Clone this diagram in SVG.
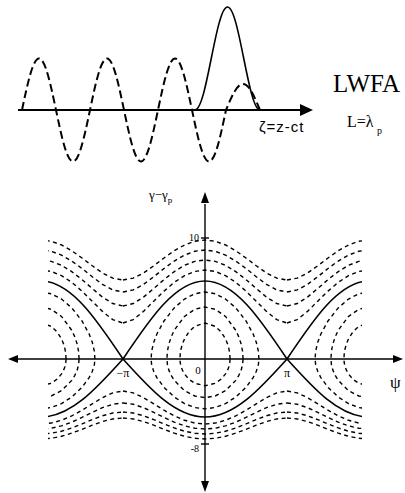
<svg xmlns="http://www.w3.org/2000/svg" xmlns:xlink="http://www.w3.org/1999/xlink" width="405" height="493" viewBox="0 0 405 493">
<style>
.ax{stroke:#000;stroke-width:1.4;fill:none}
.ah{fill:#000;stroke:none}
.sol{stroke:#000;stroke-width:1.6;fill:none}
.dsh{stroke:#000;stroke-width:1.4;fill:none;stroke-dasharray:4 3.5}
.tdsh{stroke:#000;stroke-width:2;fill:none;stroke-dasharray:8 4}
.serif{font-family:"Liberation Serif","DejaVu Serif",serif;fill:#000}
.sans{font-family:"Liberation Sans","DejaVu Sans",sans-serif;fill:#000}
</style>
<defs>
<clipPath id="plotclip"><rect x="-157" y="-170" width="314" height="280"/></clipPath>
<g id="cell">
<path class="sol" d="M-82,0 C-55.26,-39.96 -29.68,-78 0,-78 C29.68,-78 55.26,-39.96 82,0"/>
<path class="sol" d="M-82,0 C-55.26,29.71 -29.68,58 0,58 C29.68,58 55.26,29.71 82,0"/>
<polyline class="dsh" points="-82,-79 -71.75,-80.88 -61.5,-86.03 -51.25,-93.2 -41,-101 -30.75,-108.24 -20.5,-114.02 -10.25,-117.73 0,-119 10.25,-117.73 20.5,-114.02 30.75,-108.24 41,-101 51.25,-93.2 61.5,-86.03 71.75,-80.88 82,-79"/>
<polyline class="dsh" points="-82,-67 -71.75,-69.07 -61.5,-74.64 -51.25,-82.28 -41,-90.47 -30.75,-97.98 -20.5,-103.92 -10.25,-107.7 0,-109 10.25,-107.7 20.5,-103.92 30.75,-97.98 41,-90.47 51.25,-82.28 61.5,-74.64 71.75,-69.07 82,-67"/>
<polyline class="dsh" points="-82,-53 -71.75,-55.45 -61.5,-61.91 -51.25,-70.48 -41,-79.4 -30.75,-87.42 -20.5,-93.69 -10.25,-97.65 0,-99 10.25,-97.65 20.5,-93.69 30.75,-87.42 41,-79.4 51.25,-70.48 61.5,-61.91 71.75,-55.45 82,-53"/>
<polyline class="dsh" points="-82,-36 -71.75,-39.35 -61.5,-47.6 -51.25,-57.8 -41,-67.89 -30.75,-76.66 -20.5,-83.37 -10.25,-87.57 0,-89 10.25,-87.57 20.5,-83.37 30.75,-76.66 41,-67.89 51.25,-57.8 61.5,-47.6 71.75,-39.35 82,-36"/>
<polyline class="dsh" points="-82,32 -71.75,33.85 -61.5,38.64 -51.25,44.86 -41,51.23 -30.75,56.89 -20.5,61.29 -10.25,64.06 0,65 10.25,64.06 20.5,61.29 30.75,56.89 41,51.23 51.25,44.86 61.5,38.64 71.75,33.85 82,32"/>
<polyline class="dsh" points="-82,44 -71.75,45.26 -61.5,48.68 -51.25,53.39 -41,58.46 -30.75,63.13 -20.5,66.83 -10.25,69.19 0,70 10.25,69.19 20.5,66.83 30.75,63.13 41,58.46 51.25,53.39 61.5,48.68 71.75,45.26 82,44"/>
<polyline class="dsh" points="-82,53 -71.75,54 -61.5,56.76 -51.25,60.65 -41,64.94 -30.75,68.96 -20.5,72.2 -10.25,74.28 0,75 10.25,74.28 20.5,72.2 30.75,68.96 41,64.94 51.25,60.65 61.5,56.76 71.75,54 82,53"/>
<polyline class="dsh" points="-82,59 -71.75,59.93 -61.5,62.52 -51.25,66.2 -41,70.29 -30.75,74.16 -20.5,77.28 -10.25,79.3 0,80 10.25,79.3 20.5,77.28 30.75,74.16 41,70.29 51.25,66.2 61.5,62.52 71.75,59.93 82,59"/>
<polygon class="dsh" points="53.94,0 53.32,-8 51.25,-16.82 48.14,-25 41,-38.04 30.75,-51.1 20.5,-59.98 10.25,-65.25 0,-67 -10.25,-65.25 -20.5,-59.98 -30.75,-51.1 -41,-38.04 -48.14,-25 -51.25,-16.82 -53.32,-8 -53.94,0 -53.32,5.95 -51.25,12.51 -48.14,18.59 -41,28.29 -30.75,38 -20.5,44.6 -10.25,48.52 0,49.82 10.25,48.52 20.5,44.6 30.75,38 41,28.29 48.14,18.59 51.25,12.51 53.32,5.95"/>
<polygon class="dsh" points="38.09,0 37.53,-8 36.14,-15 33.85,-22 30.75,-28.74 20.5,-42.58 10.25,-49.72 0,-52 -10.25,-49.72 -20.5,-42.58 -30.75,-28.74 -33.85,-22 -36.14,-15 -37.53,-8 -38.09,0 -37.53,5.95 -36.14,11.15 -33.85,16.36 -30.75,21.37 -20.5,31.66 -10.25,36.97 0,38.67 10.25,36.97 20.5,31.66 30.75,21.37 33.85,16.36 36.14,11.15 37.53,5.95"/>
<polygon class="dsh" points="25.06,0 24.79,-5 23.98,-10 22.6,-15 20.5,-20.12 16.21,-27 10.25,-32.63 0,-36 -10.25,-32.63 -16.21,-27 -20.5,-20.12 -22.6,-15 -23.98,-10 -24.79,-5 -25.06,0 -24.79,3.72 -23.98,7.44 -22.6,11.15 -20.5,14.96 -16.21,20.08 -10.25,24.26 0,26.77 10.25,24.26 16.21,20.08 20.5,14.96 22.6,11.15 23.98,7.44 24.79,3.72"/>
</g>
</defs>

<g id="wave-panel">
<line class="ax" style="stroke-width:2" x1="18" y1="110" x2="301" y2="110"/>
<polygon class="ah" points="300,104 313,110 300,116"/>
<path class="tdsh" d="M22,110 C27.54,83.62 32.85,58.5 39,58.5 C45.15,58.5 50.46,83.62 56,110 C61.54,136.38 66.85,161.5 73,161.5 C79.15,161.5 84.46,136.38 90,110 C95.54,83.62 100.85,58.5 107,58.5 C113.15,58.5 118.46,83.62 124,110 C129.54,136.38 134.85,161.5 141,161.5 C147.15,161.5 152.46,136.38 158,110 C163.54,83.62 168.85,58.5 175,58.5 C181.15,58.5 186.46,83.62 192,110 C197.54,136.38 202.85,161.5 209,161.5 C215.15,161.5 220.46,136.38 226,110 C231.54,96.68 236.85,84 243,84 C249.15,84 254.46,96.68 260,110"/>
<path class="sol" d="M195,110 C200.88,110 205.95,84.88 211.25,58.5 C216.55,32.12 221.62,7 227.5,7 C233.38,7 238.45,32.12 243.75,58.5 C249.05,84.88 254.12,110 260,110"/>
<text class="sans" x="259" y="132" font-size="15" letter-spacing="1">ζ=z-ct</text>
<text class="serif" x="333" y="92" font-size="25">LWFA</text>
<text class="serif" x="347" y="127" font-size="16">L=λ<tspan x="377" y="134" font-size="10">p</tspan></text>
</g>

<g id="phase-curves" transform="translate(205,359)" clip-path="url(#plotclip)">
<use xlink:href="#cell" x="-164"/>
<use xlink:href="#cell"/>
<use xlink:href="#cell" x="164"/>
</g>

<g id="axes">
<line class="ax" x1="17" y1="359" x2="394" y2="359"/>
<polygon class="ah" points="18,355 8,359 18,363"/>
<polygon class="ah" points="393,355 403,359 393,363"/>
<line class="ax" x1="205" y1="204" x2="205" y2="482"/>
<polygon class="ah" points="201,203 205,192 209,203"/>
<polygon class="ah" points="201,481 205,492 209,481"/>
<line class="ax" x1="201" y1="238" x2="209" y2="238"/>
<line class="ax" x1="201" y1="444" x2="209" y2="444"/>
</g>

<g id="labels">
<text class="serif" x="149" y="199" font-size="13">γ−γ<tspan font-size="9" dy="4">p</tspan></text>
<text class="serif" x="199" y="241" font-size="10" text-anchor="end">10</text>
<text class="serif" x="199" y="452" font-size="10" text-anchor="end">-8</text>
<text class="serif" x="198" y="374" font-size="11" text-anchor="middle">0</text>
<text class="serif" x="123" y="377" font-size="12" text-anchor="middle">−π</text>
<text class="serif" x="287" y="377" font-size="12" text-anchor="middle">π</text>
<text class="serif" x="390" y="388" font-size="17">ψ</text>
</g>
</svg>
